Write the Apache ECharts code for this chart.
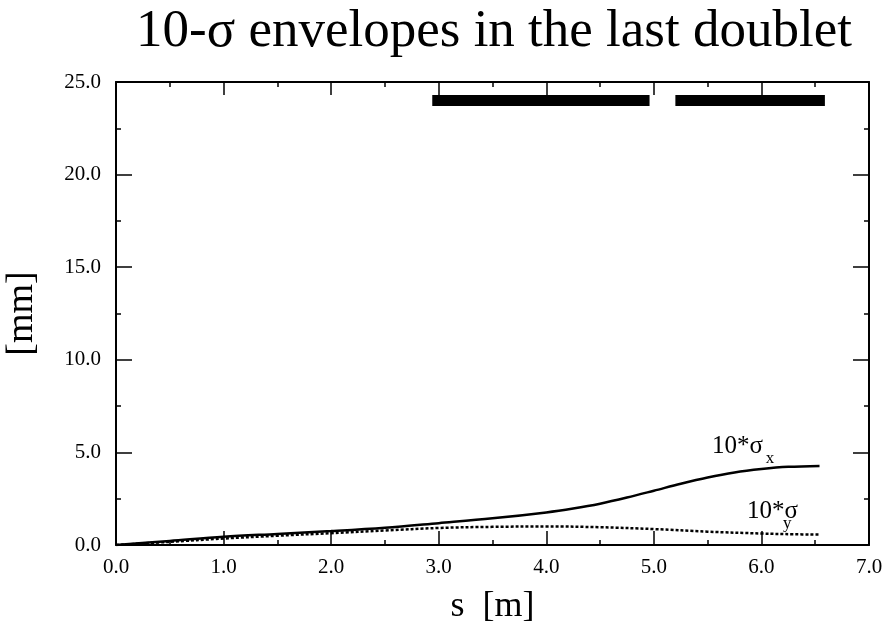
<!DOCTYPE html>
<html>
<head>
<meta charset="utf-8">
<script src="https://cdn.jsdelivr.net/npm/echarts@6/dist/echarts.min.js"></script>
<style>
  html, body { margin: 0; padding: 0; background: #fff; }
  #chart { width: 883px; height: 624px; }
</style>
</head>
<body>
<div id="chart"></div>
<script>
// Beam-envelope data along the final focusing doublet (s in m, 10*sigma in mm)
const sPosX = [0, 0.5, 1.0, 1.5, 2.0, 2.5, 3.0, 3.5, 4.0, 4.25, 4.5, 4.75, 5.0, 5.25, 5.5, 5.75, 6.0, 6.25, 6.54];
const sigmaX10 = [0, 0.22, 0.45, 0.60, 0.75, 0.93, 1.18, 1.44, 1.76, 1.97, 2.23, 2.56, 2.93, 3.31, 3.65, 3.92, 4.10, 4.22, 4.27];
const sPosY = [0, 0.5, 1.0, 1.5, 2.0, 2.5, 3.0, 3.5, 4.0, 4.5, 5.0, 5.5, 6.0, 6.3, 6.54];
const sigmaY10 = [0, 0.17, 0.35, 0.50, 0.64, 0.78, 0.92, 0.98, 1.00, 0.96, 0.86, 0.72, 0.62, 0.58, 0.56];

// Quadrupole positions [start, end] in m, drawn at the top of the plot
const magnets = [[2.94, 4.96], [5.20, 6.59]];
const magnetLevel = 24.0;

const xTicks = [0, 1, 2, 3, 4, 5, 6, 7];
const yTicks = [0, 5, 10, 15, 20, 25];

const FONT = '"Liberation Serif", "Times New Roman", serif';

function pairs(xs, ys) { return xs.map((x, i) => [x, ys[i]]); }

const frameLine = { show: true, onZero: false, lineStyle: { color: '#000', width: 2 } };
const tickStyle = { color: '#000', width: 1.5 };

function labelAt(coord, text, size) {
  return {
    coord: coord,
    label: {
      show: true, formatter: text, position: [0, 0], align: 'left', verticalAlign: 'bottom',
      fontFamily: FONT, fontSize: size, color: '#000'
    }
  };
}

const chart = echarts.init(document.getElementById('chart'));
chart.setOption({
  animation: false,
  backgroundColor: '#fff',
  title: {
    text: '10-σ envelopes in the last doublet',
    left: 131,
    top: 1,
    textStyle: { fontFamily: FONT, fontSize: 53, fontWeight: 'normal', color: '#000' }
  },
  grid: { left: 116, right: 14, top: 82, bottom: 79, containLabel: false, outerBoundsMode: 'none' },
  xAxis: [
    {
      type: 'value', position: 'bottom',
      min: xTicks[0], max: xTicks[xTicks.length - 1], interval: 1,
      axisLine: frameLine,
      axisTick: { show: true, inside: true, length: 14, lineStyle: tickStyle },
      minorTick: { show: true, splitNumber: 2, length: 5, lineStyle: tickStyle },
      splitLine: { show: false },
      axisLabel: { formatter: v => v.toFixed(1), fontFamily: FONT, fontSize: 21, color: '#000', margin: 12 },
      name: 's  [m]', nameLocation: 'middle', nameGap: 44,
      nameTextStyle: { fontFamily: FONT, fontSize: 36, color: '#000' }
    },
    {
      type: 'value', position: 'top',
      min: xTicks[0], max: xTicks[xTicks.length - 1], interval: 1,
      axisLine: frameLine,
      axisTick: { show: true, inside: true, length: 13, lineStyle: tickStyle },
      minorTick: { show: true, splitNumber: 2, length: 5, lineStyle: tickStyle },
      splitLine: { show: false },
      axisLabel: { show: false }
    }
  ],
  yAxis: [
    {
      type: 'value', position: 'left',
      min: yTicks[0], max: yTicks[yTicks.length - 1], interval: 5,
      axisLine: frameLine,
      axisTick: { show: true, inside: true, length: 16, lineStyle: tickStyle },
      minorTick: { show: true, splitNumber: 2, length: 5, lineStyle: tickStyle },
      splitLine: { show: false },
      axisLabel: { formatter: v => v.toFixed(1), fontFamily: FONT, fontSize: 21, color: '#000', margin: 15 },
      name: '[mm]', nameLocation: 'middle', nameGap: 75, nameRotate: 90,
      nameTextStyle: { fontFamily: FONT, fontSize: 38, color: '#000' }
    },
    {
      type: 'value', position: 'right',
      min: yTicks[0], max: yTicks[yTicks.length - 1], interval: 5,
      axisLine: frameLine,
      axisTick: { show: true, inside: true, length: 16, lineStyle: tickStyle },
      minorTick: { show: true, splitNumber: 2, length: 5, lineStyle: tickStyle },
      splitLine: { show: false },
      axisLabel: { show: false }
    }
  ],
  series: [
    {
      name: 'sigma_x',
      type: 'line',
      data: pairs(sPosX, sigmaX10),
      smooth: 0.35,
      showSymbol: false,
      lineStyle: { color: '#000', width: 2.5 },
      markPoint: {
        symbolSize: 0,
        silent: true,
        data: [labelAt([5.54, 4.65], '10*σ', 25), labelAt([6.04, 4.19], 'x', 17)]
      }
    },
    {
      name: 'sigma_y',
      type: 'line',
      data: pairs(sPosY, sigmaY10),
      smooth: 0.4,
      showSymbol: false,
      lineStyle: { color: '#000', width: 2.5, type: [3, 2] },
      markPoint: {
        symbolSize: 0,
        silent: true,
        data: [labelAt([5.865, 1.14], '10*σ', 25), labelAt([6.2, 0.72], 'y', 17)]
      }
    },
    {
      name: 'magnets',
      type: 'custom',
      data: magnets.map(m => [m[0], m[1], magnetLevel]),
      renderItem: function (params, api) {
        const a = api.coord([api.value(0), api.value(2)]);
        const b = api.coord([api.value(1), api.value(2)]);
        const h = api.size([0, 0.6])[1];
        return {
          type: 'rect',
          shape: { x: a[0], y: a[1] - h / 2, width: b[0] - a[0], height: h },
          style: { fill: '#000' }
        };
      }
    }
  ]
});
</script>
</body>
</html>
